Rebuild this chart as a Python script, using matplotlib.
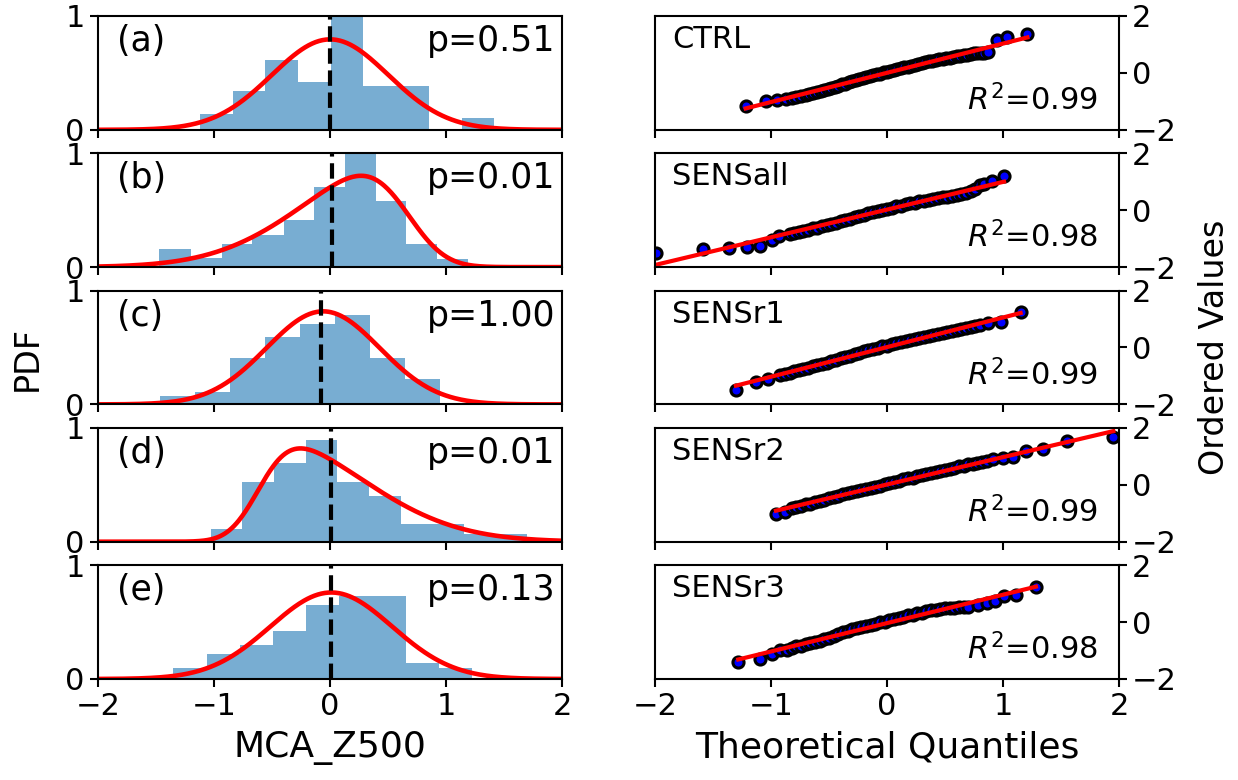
import math
import numpy as np
import matplotlib
matplotlib.use("Agg")
import matplotlib.pyplot as plt

plt.rcParams['font.family'] = ['DejaVu Sans']
plt.rcParams['axes.linewidth'] = 1.5
plt.rcParams['mathtext.fontset'] = 'dejavusans'

# ---------------- data ----------------
panel_tags = ["(a)", "(b)", "(c)", "(d)", "(e)"]
p_values = ["p=0.51", "p=0.01", "p=1.00", "p=0.01", "p=0.13"]
experiments = ["CTRL", "SENSall", "SENSr1", "SENSr2", "SENSr3"]
r2_values = ["0.99", "0.98", "0.99", "0.99", "0.98"]

# histogram bin edges and densities (PDF)
edges_a = [-1.12, -0.84, -0.56, -0.276, 0.006, 0.287, 0.57, 0.853, 1.135, 1.417]
dens_a = [0.141, 0.34, 0.616, 0.419, 1.08, 0.381, 0.381, 0.0, 0.103]
edges_b = [-1.474, -1.201, -0.934, -0.67, -0.40, -0.138, 0.126, 0.394, 0.658, 0.925, 1.19]
dens_b = [0.159, 0.08, 0.203, 0.285, 0.418, 0.706, 1.05, 0.585, 0.203, 0.074]
edges_c = [-1.466, -1.164, -0.862, -0.56, -0.259, 0.043, 0.345, 0.647, 0.948]
dens_c = [0.071, 0.107, 0.408, 0.595, 0.704, 0.784, 0.408, 0.219]
edges_d = [-1.029, -0.756, -0.483, -0.21, 0.063, 0.336, 0.609, 0.882, 1.155, 1.428, 1.701]
dens_d = [0.109, 0.524, 0.689, 0.896, 0.524, 0.405, 0.157, 0.157, 0.068, 0.068]
edges_e = [-1.351, -1.063, -0.779, -0.491, -0.204, 0.08, 0.368, 0.653, 0.94, 1.221]
dens_e = [0.10, 0.216, 0.302, 0.42, 0.651, 0.731, 0.731, 0.139, 0.10]

# fitted skew-normal parameters (loc, scale, shape) per panel
fit_loc = [0.0, 0.655, -0.06, -0.61, 0.01]
fit_scale = [0.502, 0.82, 0.488, 0.85, 0.525]
fit_shape = [0.0, -3.0, 0.0, 4.0, 0.0]

# dashed reference line position
median_x = [0.0, 0.02, -0.08, 0.01, 0.01]

# QQ plots: theoretical quantiles and ordered values
qq_x_ctrl = [-1.218, -1.046, -0.951, -0.874, -0.82, -0.78, -0.74, -0.70, -0.67, -0.64, -0.60, -0.57,
             -0.54, -0.51, -0.48, -0.45, -0.42, -0.39, -0.36, -0.33, -0.30, -0.27, -0.24, -0.21,
             -0.18, -0.15, -0.12, -0.09, -0.06, -0.03, 0.00, 0.03, 0.06, 0.09, 0.12, 0.15, 0.18,
             0.21, 0.24, 0.27, 0.30, 0.33, 0.36, 0.39, 0.42, 0.45, 0.48, 0.51, 0.54, 0.57, 0.60,
             0.63, 0.66, 0.69, 0.72, 0.75, 0.78, 0.81, 0.84, 0.874, 0.945, 1.037, 1.21]
qq_y_ctrl = [-1.16, -0.985, -0.95, -0.927, -0.885, -0.844, -0.813, -0.763, -0.742, -0.702, -0.661,
             -0.620, -0.600, -0.559, -0.529, -0.488, -0.448, -0.407, -0.376, -0.336, -0.295,
             -0.255, -0.214, -0.174, -0.143, -0.103, -0.082, -0.042, -0.021, 0.019, 0.040,
             0.081, 0.101, 0.142, 0.162, 0.203, 0.223, 0.254, 0.294, 0.315, 0.345, 0.366,
             0.406, 0.427, 0.458, 0.478, 0.499, 0.519, 0.540, 0.560, 0.581, 0.601, 0.622,
             0.645, 0.665, 0.685, 0.700, 0.710, 0.715, 0.725, 1.149, 1.265, 1.382]

qq_x_all = [-1.991, -1.583, -1.359, -1.21, -1.095, -0.994, -0.928, -0.84, -0.80, -0.76, -0.72,
            -0.68, -0.64, -0.60, -0.56, -0.52, -0.48, -0.44, -0.40, -0.36, -0.32, -0.28, -0.24,
            -0.20, -0.16, -0.12, -0.08, -0.04, 0.00, 0.04, 0.08, 0.12, 0.16, 0.20, 0.24, 0.28,
            0.32, 0.36, 0.40, 0.44, 0.48, 0.52, 0.56, 0.60, 0.64, 0.68, 0.72, 0.76, 0.80, 0.84,
            0.902, 1.009]
qq_y_all = [-1.506, -1.365, -1.341, -1.294, -1.259, -1.059, -0.894, -0.831, -0.792, -0.764,
            -0.715, -0.687, -0.638, -0.610, -0.561, -0.523, -0.484, -0.436, -0.397, -0.349,
            -0.300, -0.252, -0.203, -0.155, -0.106, -0.068, -0.019, 0.009, 0.058, 0.087,
            0.135, 0.164, 0.202, 0.241, 0.269, 0.308, 0.336, 0.365, 0.393, 0.422, 0.450,
            0.479, 0.507, 0.546, 0.574, 0.62, 0.67, 0.74, 0.90, 0.93, 1.02, 1.20]

qq_x_r1 = [-1.302, -1.132, -1.029, -0.92, -0.88, -0.84, -0.80, -0.76, -0.72, -0.68, -0.64,
           -0.60, -0.56, -0.52, -0.48, -0.44, -0.40, -0.36, -0.32, -0.28, -0.24, -0.20, -0.16,
           -0.12, -0.08, -0.04, 0.00, 0.04, 0.08, 0.12, 0.16, 0.20, 0.24, 0.28, 0.32, 0.36,
           0.40, 0.44, 0.48, 0.52, 0.56, 0.60, 0.64, 0.68, 0.72, 0.76, 0.802, 0.874, 0.98, 1.152]
qq_y_r1 = [-1.485, -1.216, -1.099, -0.964, -0.923, -0.881, -0.840, -0.799, -0.747, -0.716,
           -0.664, -0.623, -0.572, -0.530, -0.479, -0.437, -0.386, -0.345, -0.293, -0.242,
           -0.190, -0.139, -0.098, -0.046, -0.015, 0.037, 0.068, 0.119, 0.151, 0.192, 0.234,
           0.265, 0.306, 0.338, 0.369, 0.401, 0.432, 0.463, 0.495, 0.536, 0.568, 0.609,
           0.640, 0.682, 0.723, 0.755, 0.795, 0.854, 0.889, 1.24]

qq_x_r2 = [-0.957, -0.879, -0.82, -0.78, -0.74, -0.70, -0.66, -0.62, -0.58, -0.54, -0.50,
           -0.46, -0.42, -0.38, -0.34, -0.30, -0.26, -0.22, -0.18, -0.14, -0.10, -0.06, -0.02,
           0.02, 0.06, 0.10, 0.14, 0.18, 0.22, 0.26, 0.30, 0.34, 0.38, 0.42, 0.46, 0.50, 0.54,
           0.58, 0.62, 0.66, 0.70, 0.74, 0.78, 0.82, 0.86, 0.917, 1.003, 1.089, 1.198, 1.342,
           1.555, 1.951]
qq_y_r2 = [-1.032, -0.95, -0.818, -0.779, -0.740, -0.691, -0.662, -0.613, -0.574, -0.525,
           -0.476, -0.427, -0.378, -0.329, -0.290, -0.251, -0.212, -0.183, -0.144, -0.105,
           -0.066, -0.027, 0.012, 0.050, 0.099, 0.138, 0.187, 0.226, 0.255, 0.294, 0.333,
           0.362, 0.401, 0.440, 0.479, 0.518, 0.557, 0.606, 0.645, 0.674, 0.713, 0.742,
           0.771, 0.800, 0.829, 0.89, 0.938, 0.962, 1.173, 1.243, 1.525, 1.689]

qq_x_r3 = [-1.282, -1.095, -0.994, -0.922, -0.865, -0.82, -0.78, -0.74, -0.70, -0.66, -0.62,
           -0.58, -0.54, -0.50, -0.46, -0.42, -0.38, -0.34, -0.30, -0.26, -0.22, -0.18, -0.14,
           -0.10, -0.06, -0.02, 0.02, 0.06, 0.10, 0.14, 0.18, 0.22, 0.26, 0.30, 0.34, 0.38,
           0.42, 0.46, 0.50, 0.54, 0.58, 0.62, 0.66, 0.701, 0.787, 0.859, 0.931, 1.009, 1.112,
           1.284]
qq_y_r3 = [-1.402, -1.284, -1.12, -0.991, -0.968, -0.897, -0.856, -0.826, -0.775, -0.744,
           -0.703, -0.662, -0.611, -0.561, -0.490, -0.409, -0.348, -0.307, -0.256, -0.225,
           -0.175, -0.144, -0.093, -0.062, -0.011, 0.020, 0.070, 0.101, 0.152, 0.183, 0.234,
           0.265, 0.305, 0.336, 0.377, 0.408, 0.439, 0.470, 0.490, 0.500, 0.510, 0.520,
           0.527, 0.534, 0.616, 0.674, 0.733, 0.93, 0.968, 1.226]

hist_edges = [edges_a, edges_b, edges_c, edges_d, edges_e]
hist_dens = [dens_a, dens_b, dens_c, dens_d, dens_e]
qq_x = [qq_x_ctrl, qq_x_all, qq_x_r1, qq_x_r2, qq_x_r3]
qq_y = [qq_y_ctrl, qq_y_all, qq_y_r1, qq_y_r2, qq_y_r3]


def skewnorm_pdf(x, loc, scale, shape):
    z = (x - loc) / scale
    phi = np.exp(-0.5 * z ** 2) / np.sqrt(2 * np.pi)
    Phi = 0.5 * (1 + np.vectorize(math.erf)(shape * z / np.sqrt(2)))
    return 2.0 / scale * phi * Phi


# ---------------- figure ----------------
fig, axes = plt.subplots(5, 2, figsize=(12.38, 7.8), dpi=100)
fig.subplots_adjust(left=0.0792, right=0.9039, top=0.9795, bottom=0.1295,
                    wspace=0.2, hspace=0.206)

xgrid = np.linspace(-2, 2, 400)
tick_fs = 22

for i in range(5):
    ax = axes[i, 0]
    e = np.array(hist_edges[i])
    ax.bar(e[:-1], hist_dens[i], width=np.diff(e), align='edge',
           color='#1f77b4', alpha=0.6, linewidth=0)
    ax.plot(xgrid, skewnorm_pdf(xgrid, fit_loc[i], fit_scale[i], fit_shape[i]),
            color='red', lw=3.3)
    ax.axvline(median_x[i], color='black', ls='--', lw=3)
    ax.set_xlim(-2, 2)
    ax.set_ylim(0, 1)
    ax.set_yticks([0, 1])
    ax.set_xticks([-2, -1, 0, 1, 2])
    ax.tick_params(labelsize=tick_fs, width=1.5, length=6)
    if i < 4:
        ax.tick_params(labelbottom=False)
    ax.text(0.04, 0.93, panel_tags[i], transform=ax.transAxes, ha='left', va='top',
            fontsize=25)
    ax.text(0.985, 0.93, p_values[i], transform=ax.transAxes, ha='right', va='top',
            fontsize=25)

    ax2 = axes[i, 1]
    qx = np.array(qq_x[i])
    qy = np.array(qq_y[i])
    ax2.plot(qx, qy, 'o', color='blue', markeredgecolor='black', markersize=8,
             markeredgewidth=2.2)
    slope, intercept = np.polyfit(qx, qy, 1)
    ends = np.array([qx.min(), qx.max()])
    ax2.plot(ends, slope * ends + intercept, color='red', lw=3)
    ax2.set_xlim(-2, 2)
    ax2.set_ylim(-2, 2)
    ax2.set_xticks([-2, -1, 0, 1, 2])
    ax2.set_yticks([-2, 0, 2])
    ax2.yaxis.tick_right()
    ax2.tick_params(labelsize=tick_fs, width=1.5, length=6)
    if i < 4:
        ax2.tick_params(labelbottom=False)
    ax2.text(0.037, 0.92, experiments[i], transform=ax2.transAxes, ha='left', va='top',
             fontsize=22)
    ax2.text(0.955, 0.17, r'$R^2$=' + r2_values[i], transform=ax2.transAxes,
             ha='right', va='baseline', fontsize=22)

axes[4, 0].set_xlabel('MCA_Z500', fontsize=26, labelpad=7)
axes[4, 1].set_xlabel('Theoretical Quantiles', fontsize=26, labelpad=7)
fig.text(0.022, 0.54, 'PDF', rotation=90, ha='center', va='center', fontsize=24)
fig.text(0.981, 0.555, 'Ordered Values', rotation=90, ha='center', va='center', fontsize=24)

fig.savefig('out.png', dpi=100)
